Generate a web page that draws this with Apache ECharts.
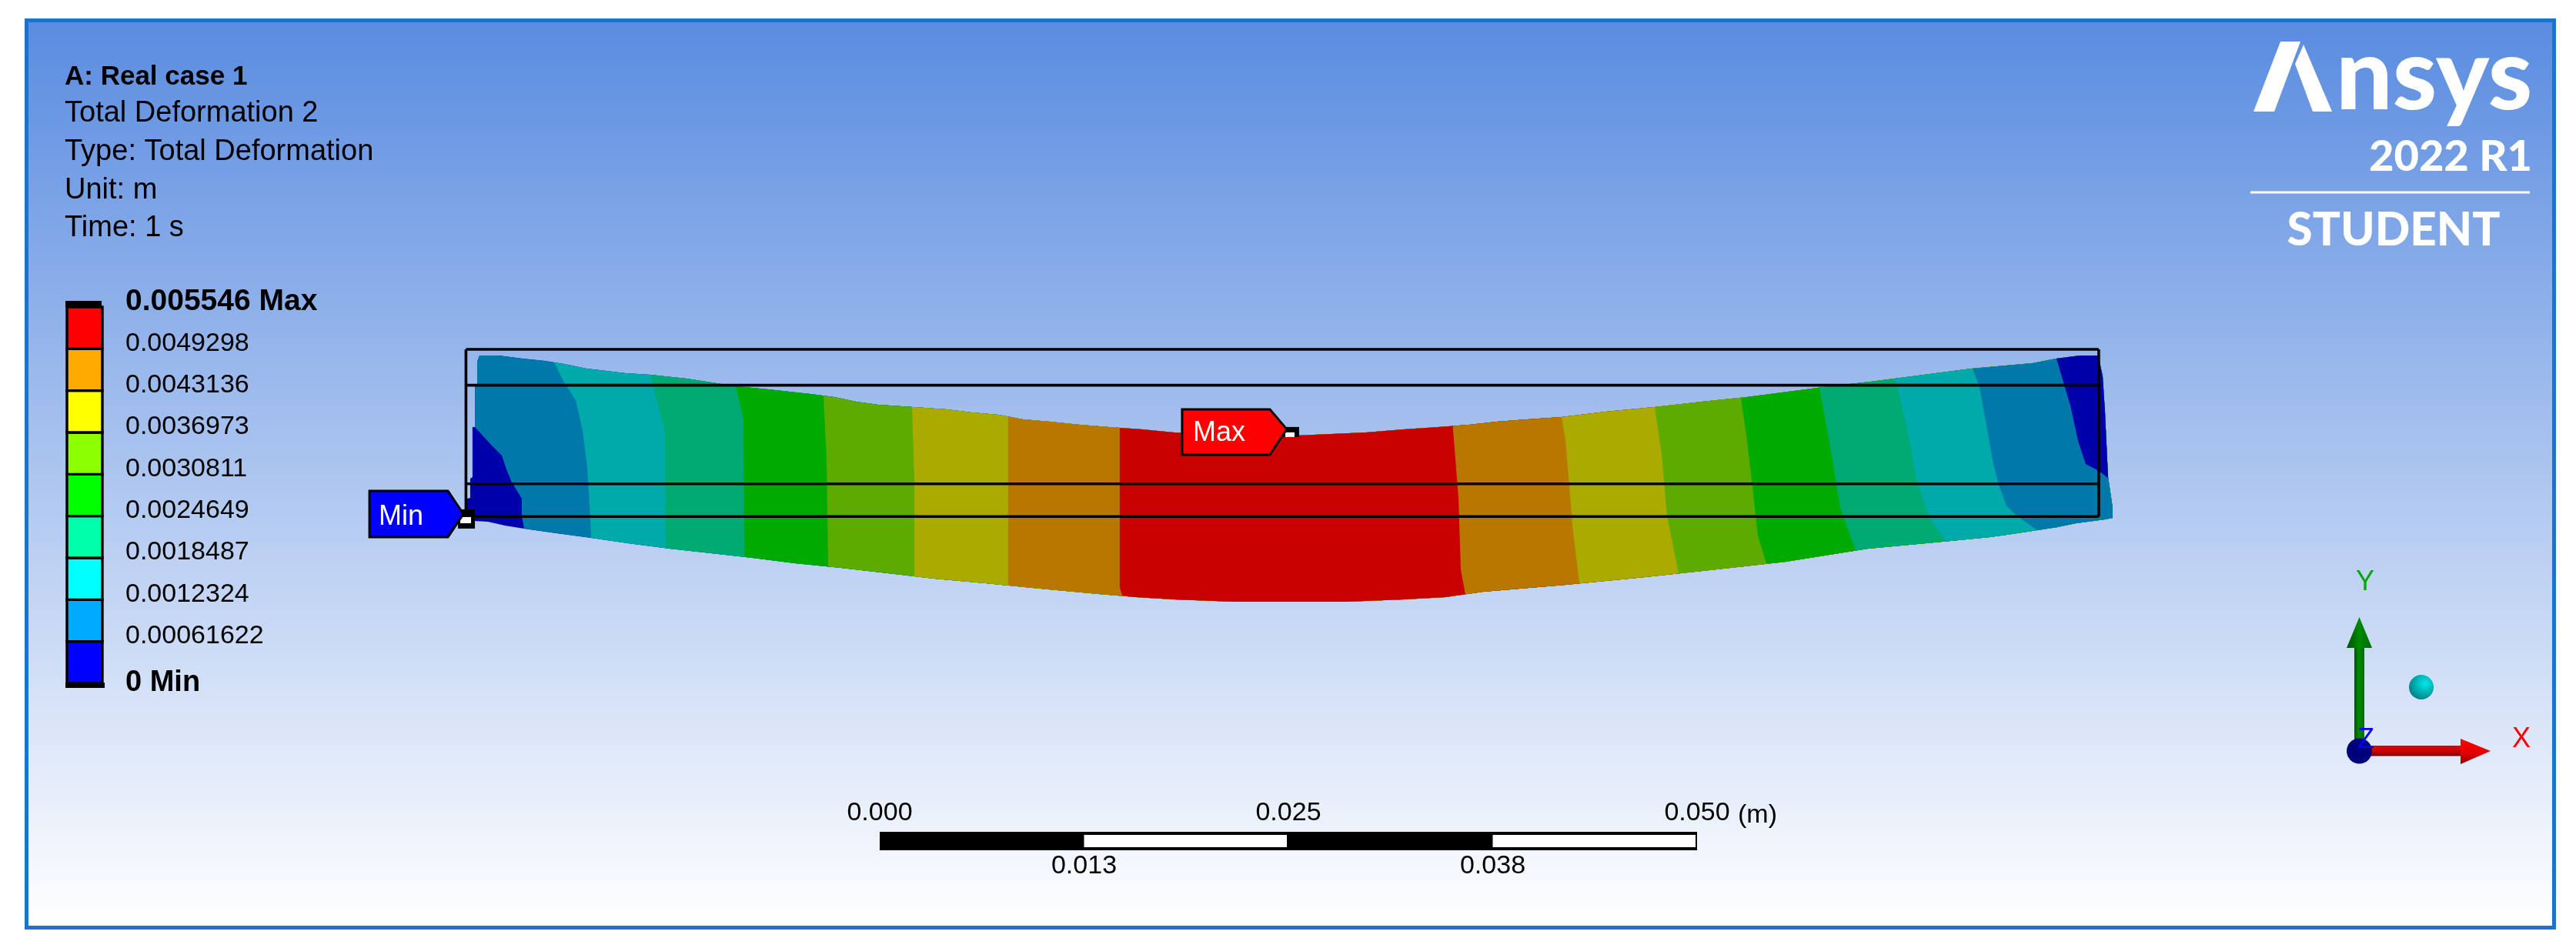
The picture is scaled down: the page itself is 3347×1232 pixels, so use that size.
<!DOCTYPE html>
<html>
<head>
<meta charset="utf-8">
<title>Total Deformation 2</title>
<script src="https://cdn.jsdelivr.net/npm/echarts@6/dist/echarts.min.js"></script>
<style>
  html, body { margin: 0; padding: 0; background: #fff; }
  #main { width: 3347px; height: 1232px; }
</style>
</head>
<body>
<div id="main"></div>
<script>
// text block, top left
var headerLines = ["A: Real case 1", "Total Deformation 2", "Type: Total Deformation", "Unit: m", "Time: 1 s"];

// colour legend, lowest first
var legendStep = 0.00061622;
var legendLabels = ["0 Min", "0.00061622", "0.0012324", "0.0018487", "0.0024649", "0.0030811", "0.0036973", "0.0043136", "0.0049298", "0.005546 Max"];
var legendColors = ["#0000ff", "#00aaff", "#00ffff", "#00ffaa", "#00ff00", "#8cff00", "#ffff00", "#ffaa00", "#ff0000"];

// scale bar, metres
var scaleTicks = ["0.000", "0.013", "0.025", "0.038", "0.050"];
var scaleWhite = [[0.0125, 0.025], [0.0375, 0.05]];

// beam outline, [x mm, y mm]
var topEdge = [[0.85,16.13],[2.03,16.13],[3.49,15.94],[4.86,15.80],[6.04,15.61],[7.41,15.33],[9.81,15.05],[11.32,14.95],[13.54,14.72],[14.76,14.53],[16.56,14.25],[18.54,14.06],[21.13,13.77],[22.59,13.58],[23.92,13.30],[25.28,13.11],[27.41,12.97],[29.48,12.83],[30.99,12.64],[32.64,12.50],[34.15,12.22],[35.80,12.08],[37.64,11.89],[39.43,11.75],[41.46,11.60],[43.40,11.42],[48.82,11.13],[52.03,11.27],[55.19,11.42],[57.50,11.60],[59.62,11.75],[61.51,11.89],[63.21,12.08],[65.09,12.22],[67.17,12.36],[69.91,12.69],[72.88,12.97],[75.80,13.30],[78.54,13.58],[81.08,13.92],[83.63,14.25],[86.13,14.53],[88.68,14.86],[92.31,15.33],[96.04,15.66],[97.50,15.94],[98.96,16.13],[100.05,16.13]];
var bottomEdge = [[0.52,5.99],[1.37,5.94],[2.41,5.71],[3.58,5.52],[5.57,5.24],[7.69,4.95],[9.95,4.62],[12.50,4.29],[15.05,4.01],[17.59,3.73],[20.19,3.40],[23.02,3.11],[25.90,2.78],[28.73,2.45],[31.89,2.17],[35.24,1.84],[38.82,1.51],[41.09,1.32],[43.40,1.18],[47.17,1.04],[53.92,1.04],[57.50,1.18],[60.05,1.32],[62.36,1.65],[67.41,2.08],[72.26,2.55],[76.65,3.02],[80.90,3.49],[85.94,4.29],[90.99,4.76],[93.40,5.00],[94.43,5.14],[96.32,5.42],[97.55,5.61],[98.68,5.85],[100.47,6.08]];
var rightEdge = [[100.94,6.18],[100.94,6.79],[100.66,8.68],[100.61,9.72],[100.47,12.69],[100.33,14.86]];

// contour lines, each runs from the top of the beam to the bottom
var contours = [
  [[0.85,16.13],[0.71,15.75],[0.71,14.39],[0.57,14.20],[0.57,11.75],[0.42,11.75],[0.42,8.68],[0.28,8.58],[0.28,7.41],[0.09,7.36],[0.09,6.08]],
  [[0.85,16.13],[0.71,15.75],[0.71,14.39],[0.57,14.20],[0.57,11.75],[1.51,10.71],[2.22,10.00],[2.50,9.15],[2.83,8.35],[3.07,7.97],[3.44,7.36],[3.44,6.32],[3.58,5.52]],
  [[5.42,15.71],[6.04,14.48],[6.75,13.40],[7.17,11.51],[7.45,9.29],[7.64,6.18],[7.69,4.95]],
  [[11.32,14.95],[11.75,13.25],[12.22,11.37],[12.26,4.32]],
  [[16.56,14.25],[17.03,12.22],[17.08,3.79]],
  [[21.93,13.67],[22.12,9.76],[22.22,3.19]],
  [[27.36,12.97],[27.50,8.54],[27.50,2.59]],
  [[33.25,12.39],[33.25,2.04]],
  [[40.09,11.70],[40.09,1.93],[40.24,1.40]],
  [[60.50,11.82],[60.85,7.41],[60.99,3.02],[61.27,1.49]],
  [[67.17,12.36],[67.41,10.90],[67.64,8.21],[67.83,5.71],[68.26,2.16]],
  [[72.88,12.97],[73.30,10.09],[73.63,6.32],[74.34,2.77]],
  [[78.16,13.54],[78.54,10.90],[78.87,8.07],[79.20,5.05],[79.72,3.37]],
  [[82.97,14.16],[83.63,10.57],[84.25,6.79],[85.19,4.17]],
  [[87.60,14.72],[88.25,12.12],[88.96,8.35],[89.72,6.18],[90.75,4.74]],
  [[92.36,15.33],[92.78,14.20],[93.16,12.12],[93.63,9.48],[93.96,8.21],[94.43,6.93],[95.05,6.32],[96.32,5.42]],
  [[97.50,15.94],[97.97,14.34],[98.35,13.07],[98.82,10.90],[99.29,9.48],[100.09,9.06],[100.66,8.63]]
];
var bandColors = ["#0000aa", "#0078aa", "#00aaaa", "#00aa72", "#00aa00", "#5daa00", "#aaaa00", "#b87800", "#c80000", "#b87800", "#aaaa00", "#5daa00", "#00aa00", "#00aa72", "#00aaaa", "#0078aa", "#0000aa"];

// undeformed outline, [x1, y1, x2, y2] in mm
var wireLines = [[0.02,16.51,100.09,16.51],[0.02,14.31,100.09,14.31],[0.02,8.27,100.09,8.27],[0.02,6.26,100.09,6.26],[0.02,16.51,0.02,6.26],[100.09,16.51,100.09,6.26]];

// probes
var probeNames = ["Min", "Max"];
var probePoints = [[0.05,6.04],[50.61,11.42]];

var FONT = '"Liberation Sans", Arial, sans-serif';
var LOGO_FONT = 'Lato, "Liberation Sans", sans-serif';

// each band paints everything to the right of its contour, later bands go over it
function bandPolygon(i) {
  var c = contours[i];
  var start = c[0], end = c[c.length - 1];
  var bottom = bottomEdge.filter(function (p) { return p[0] > end[0]; });
  var right = rightEdge.filter(function (p) { return p[1] > end[1]; });
  var top = topEdge.filter(function (p) { return p[0] > start[0]; }).reverse();
  return c.concat(bottom, right, top);
}

function renderBand(params, api) {
  return {
    type: "polygon",
    shape: { points: bandPolygon(params.dataIndex).map(function (p) { return api.coord(p); }) },
    style: { fill: bandColors[params.dataIndex] }
  };
}

function renderWire(params, api) {
  var a = api.coord([api.value(0), api.value(1)]);
  var b = api.coord([api.value(2), api.value(3)]);
  return {
    type: "line",
    shape: { x1: a[0], y1: a[1], x2: b[0], y2: b[1] },
    style: { stroke: "#000", lineWidth: 3.6, fill: null }
  };
}

function renderProbe(params, api) {
  var p = api.coord([api.value(0), api.value(1)]);
  var isMin = params.dataIndex === 0;
  var f = isMin
    ? { l: -126, r: -24, t: -38, b: 22, tip: [-4, -8], sq: [-11, -14, 22, 25], wh: [-8, -4, 14, 8], tx: -114, ty: -4 }
    : { l: -142, r: -28, t: -30, b: 29, tip: [-6, -4], sq: [-10, -7, 20, 13], wh: [-8, 0, 12, 6], tx: -128, ty: 1 };
  var mid = [[f.l, f.t], [f.r, f.t], f.tip, [f.r, f.b], [f.l, f.b]];
  return {
    type: "group",
    x: p[0],
    y: p[1],
    children: [
      { type: "rect", shape: { x: f.sq[0], y: f.sq[1], width: f.sq[2], height: f.sq[3] }, style: { fill: "#000" } },
      { type: "rect", shape: { x: f.wh[0], y: f.wh[1], width: f.wh[2], height: f.wh[3] }, style: { fill: "#fff" } },
      { type: "polygon", shape: { points: mid }, style: { fill: isMin ? "#0000ff" : "#ff0000", stroke: "#000", lineWidth: 3 } },
      { type: "text", x: f.tx, y: f.ty, style: { text: probeNames[params.dataIndex], font: "36px " + FONT, fill: "#fff", textVerticalAlign: "middle" } }
    ]
  };
}

function renderLegendCell(params, api) {
  var lo = api.coord([0, params.dataIndex * legendStep]);
  var hi = api.coord([1, (params.dataIndex + 1) * legendStep]);
  return {
    type: "rect",
    shape: { x: lo[0], y: hi[1], width: hi[0] - lo[0], height: lo[1] - hi[1] },
    style: { fill: legendColors[params.dataIndex], stroke: "#000", lineWidth: 3.4 }
  };
}

function renderScaleSegment(params, api) {
  var a = api.coord([api.value(0), 1]);
  var b = api.coord([api.value(1), 0]);
  return {
    type: "rect",
    shape: { x: a[0], y: a[1] + 4, width: b[0] - a[0] - 2, height: b[1] - a[1] - 8 },
    style: { fill: "#fff" }
  };
}

function scaleLabel(v, odd) {
  var idx = Math.round(v / 0.0125);
  return (idx % 2 === 1) === odd ? scaleTicks[idx] : "";
}

function text(x, y, str, font, fill, align) {
  return { type: "text", x: x, y: y, z: 5, style: { text: str, font: font, fill: fill, textAlign: align || "left", textVerticalAlign: "middle" } };
}

var headerY = [100, 148, 198, 248, 297];

var graphics = [
  // frame and background
  { type: "rect", z: -2, shape: { x: 32, y: 24, width: 3289, height: 1184 }, style: { fill: "#1a73cc" } },
  { type: "rect", z: -1, shape: { x: 37, y: 29, width: 3279, height: 1174 },
    style: { fill: new echarts.graphic.LinearGradient(0, 0, 0, 1, [{ offset: 0, color: "#5a8ce0" }, { offset: 1, color: "#ffffff" }]) } },

  // legend end caps
  { type: "rect", z: 1, shape: { x: 85, y: 391, width: 47, height: 9 }, style: { fill: "#000" } },
  { type: "rect", z: 1, shape: { x: 85, y: 887, width: 51, height: 7 }, style: { fill: "#000" } },

  text(2258, 1060, "(m)", "34px " + FONT, "#000"),

  // logo
  { type: "polygon", z: 5, shape: { points: [[2963, 54], [2989, 54], [2955, 145], [2928, 145]] }, style: { fill: "#fff" } },
  { type: "polygon", z: 5, shape: { points: [[2993, 58], [3030, 145], [3005, 145], [2982, 83]] }, style: { fill: "#fff" } },
  text(3035, 100, "nsys", "900 130px " + LOGO_FONT, "#fff"),
  text(3290, 204, "2022 R1", "900 56px " + LOGO_FONT, "#fff", "right"),
  { type: "rect", z: 5, shape: { x: 2924, y: 248.5, width: 363, height: 3 }, style: { fill: "#fff" } },
  text(3110, 300, "STUDENT", "900 60px " + LOGO_FONT, "#fff", "center"),

  // triad
  { type: "rect", z: 5, shape: { x: 3059, y: 840, width: 13, height: 122 },
    style: { fill: new echarts.graphic.LinearGradient(0, 0, 1, 0, [{ offset: 0, color: "#004f00" }, { offset: 0.4, color: "#008a00" }, { offset: 1, color: "#007000" }]) } },
  { type: "polygon", z: 5, shape: { points: [[3065.5, 802], [3082, 842], [3049, 842]] },
    style: { fill: new echarts.graphic.LinearGradient(0, 0, 1, 0, [{ offset: 0, color: "#004f00" }, { offset: 0.5, color: "#008a00" }, { offset: 1, color: "#006a00" }]) } },
  { type: "rect", z: 5, shape: { x: 3080, y: 969, width: 118, height: 13.5 },
    style: { fill: new echarts.graphic.LinearGradient(0, 0, 0, 1, [{ offset: 0, color: "#e40000" }, { offset: 0.6, color: "#c80000" }, { offset: 1, color: "#700000" }]) } },
  { type: "polygon", z: 5, shape: { points: [[3197, 960], [3236, 976], [3197, 993]] },
    style: { fill: new echarts.graphic.LinearGradient(0, 0, 0, 1, [{ offset: 0, color: "#ff0000" }, { offset: 0.6, color: "#e00000" }, { offset: 1, color: "#800000" }]) } },
  { type: "circle", z: 6, shape: { cx: 3065.5, cy: 976, r: 16.5 }, style: { fill: "#00007a" } },
  { type: "circle", z: 5, shape: { cx: 3146, cy: 893, r: 16 },
    style: { fill: new echarts.graphic.RadialGradient(0.65, 0.35, 0.75, [{ offset: 0, color: "#00e8e8" }, { offset: 1, color: "#007a80" }]) } },
  text(3073, 757, "Y", "36px " + FONT, "#00a800", "center"),
  text(3276, 961, "X", "36px " + FONT, "#ff0000", "center"),
  { type: "text", x: 3074, y: 962, z: 7, style: { text: "Z", font: "36px " + FONT, fill: "#0000ff", textAlign: "center", textVerticalAlign: "middle" } }
];

headerLines.forEach(function (line, i) {
  graphics.push(text(84, headerY[i], line, (i === 0 ? "bold 35px " : "38px ") + FONT, "#000"));
});

var myChart = echarts.init(document.getElementById("main"), null, { renderer: "canvas" });

myChart.setOption({
  animation: false,
  backgroundColor: "#ffffff",
  graphic: { elements: graphics },
  grid: [
    { left: 605, top: 380, width: 2226, height: 424 },   // beam, 21.2 px per mm
    { left: 87, top: 399, width: 46, height: 489 },      // colour legend
    { left: 1143, top: 1081, width: 1062, height: 24 }   // scale bar
  ],
  xAxis: [
    { gridIndex: 0, type: "value", min: 0, max: 105, show: false },
    { gridIndex: 1, type: "value", min: 0, max: 1, show: false },
    {
      gridIndex: 2, type: "value", position: "top", min: 0, max: 0.05, interval: 0.0125,
      axisLine: { show: false }, axisTick: { show: false }, splitLine: { show: false },
      axisLabel: { margin: 7, color: "#000", fontSize: 34, fontFamily: FONT, formatter: function (v) { return scaleLabel(v, false); } }
    },
    {
      gridIndex: 2, type: "value", position: "bottom", min: 0, max: 0.05, interval: 0.0125,
      axisLine: { show: false }, axisTick: { show: false }, splitLine: { show: false },
      axisLabel: { margin: 4, color: "#000", fontSize: 34, fontFamily: FONT, formatter: function (v) { return scaleLabel(v, true); } }
    }
  ],
  yAxis: [
    { gridIndex: 0, type: "value", min: 0, max: 20, show: false },
    {
      gridIndex: 1, type: "value", position: "right", min: 0, max: 9 * legendStep, interval: legendStep,
      axisLine: { show: false }, axisTick: { show: false }, splitLine: { show: false },
      axisLabel: {
        show: true, margin: 30, color: "#000", fontSize: 34, fontFamily: FONT,
        padding: [0, 0, 14, 0],
        formatter: function (v) {
          var idx = Math.round(v / legendStep);
          if (idx === 0) return "{min|" + legendLabels[idx] + "}";
          if (idx === 9) return "{max|" + legendLabels[idx] + "}";
          return legendLabels[idx];
        },
        rich: {
          max: { fontWeight: "bold", fontSize: 39, fontFamily: FONT, color: "#000" },
          min: { fontWeight: "bold", fontSize: 38, fontFamily: FONT, color: "#000", padding: [14, 0, 0, 0] }
        }
      }
    },
    { gridIndex: 2, type: "value", min: 0, max: 1, show: false }
  ],
  series: [
    {
      type: "custom", coordinateSystem: "cartesian2d", xAxisIndex: 0, yAxisIndex: 0, z: 2, clip: false,
      renderItem: renderBand,
      data: contours.map(function (c) { return c[0]; }),
      silent: true
    },
    {
      type: "custom", coordinateSystem: "cartesian2d", xAxisIndex: 0, yAxisIndex: 0, z: 3, clip: false,
      renderItem: renderWire,
      data: wireLines,
      encode: { x: [0, 2], y: [1, 3] },
      silent: true
    },
    {
      type: "custom", coordinateSystem: "cartesian2d", xAxisIndex: 0, yAxisIndex: 0, z: 4, clip: false,
      renderItem: renderProbe,
      data: probePoints,
      silent: true
    },
    {
      type: "custom", coordinateSystem: "cartesian2d", xAxisIndex: 1, yAxisIndex: 1, z: 2, clip: false,
      renderItem: renderLegendCell,
      data: legendColors.map(function (c, i) { return [0.5, (i + 0.5) * legendStep]; }),
      silent: true
    },
    {
      // solid bar behind the white segments
      type: "custom", coordinateSystem: "cartesian2d", xAxisIndex: 2, yAxisIndex: 2, z: 2, clip: false,
      renderItem: function (params, api) {
        var a = api.coord([0, 1]);
        var b = api.coord([0.05, 0]);
        return { type: "rect", shape: { x: a[0], y: a[1], width: b[0] - a[0], height: b[1] - a[1] }, style: { fill: "#000" } };
      },
      data: [[0.025, 0.5]],
      silent: true
    },
    {
      type: "custom", coordinateSystem: "cartesian2d", xAxisIndex: 2, yAxisIndex: 2, z: 3, clip: false,
      renderItem: renderScaleSegment,
      data: scaleWhite,
      encode: { x: [0, 1] },
      silent: true
    }
  ]
});
</script>
</body>
</html>
